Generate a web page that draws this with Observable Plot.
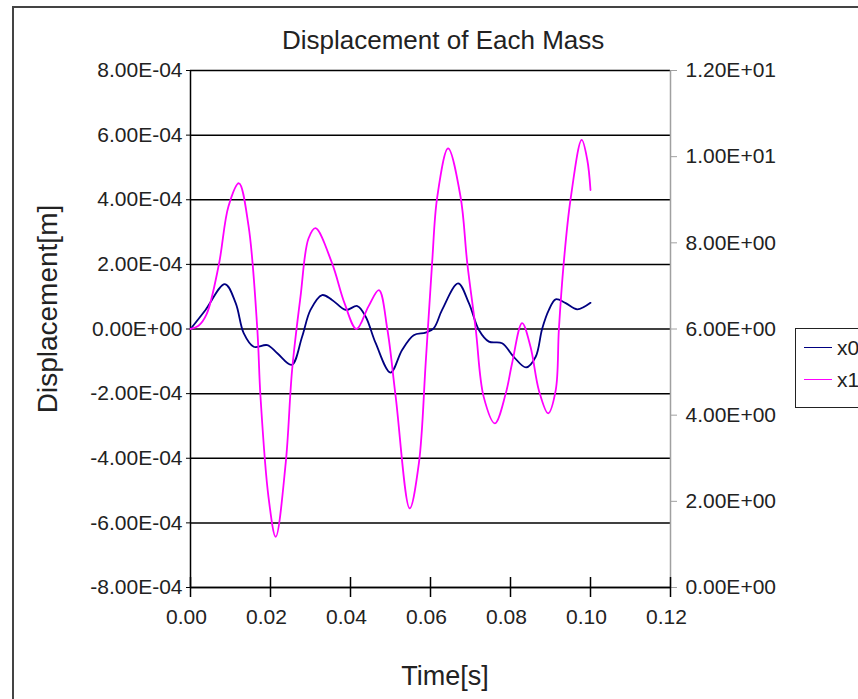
<!DOCTYPE html>
<html><head><meta charset="utf-8">
<script src="https://cdn.jsdelivr.net/npm/d3@7"></script>
<script src="https://cdn.jsdelivr.net/npm/@observablehq/plot@0.6"></script>
<style>
html,body{margin:0;padding:0;background:#fff;overflow:hidden;width:858px;height:699px}
#wrap{position:relative;width:858px;height:699px;overflow:hidden;font-family:"Liberation Sans",Arial,sans-serif;color:#222}
#frame{position:absolute;left:12px;top:6px;width:900px;height:800px;border:2px solid #444;box-sizing:border-box}
#chart{position:absolute;left:0;top:0}
#title{position:absolute;left:282px;top:27px;font-size:26px;white-space:nowrap;line-height:1}
#ytitle{position:absolute;left:48px;top:309px;font-size:28px;line-height:1;white-space:nowrap;transform:translate(-50%,-50%) rotate(-90deg)}
#xtitle{position:absolute;left:445px;top:676px;font-size:27px;line-height:1;white-space:nowrap;transform:translate(-50%,-50%)}
#legend{position:absolute;left:795px;top:328px;width:120px;height:80px;border:1.5px solid #222;box-sizing:border-box;font-size:21px;line-height:1}
.item{position:absolute;left:8px;display:flex;align-items:center;height:22px}
.sw{display:inline-block;width:28px;height:0;border-top:1.5px solid;margin-right:5px}
</style></head>
<body><div id="wrap">
<div id="frame"></div>
<div id="chart"></div>
<div id="title">Displacement of Each Mass</div>
<div id="ytitle">Displacement[m]</div>
<div id="xtitle">Time[s]</div>
<div id="legend">
  <div class="item" style="top:7px"><span class="sw" style="border-color:#000080"></span>x0</div>
  <div class="item" style="top:39px"><span class="sw" style="border-color:#ff00ff"></span>x1</div>
</div>
</div>
<script>
// Series names and colours
const seriesNames = ["x0", "x1"];
const seriesColors = ["#000080", "#ff00ff"];

// Tick labels
const xTicks = [0, 0.02, 0.04, 0.06, 0.08, 0.10, 0.12];
const leftTicks = [-8e-4, -6e-4, -4e-4, -2e-4, 0, 2e-4, 4e-4, 6e-4, 8e-4];
const rightTicks = [0, 2, 4, 6, 8, 10, 12];

// x0 : time [s] and displacement [m]
const t0 = [0, 0.00375, 0.0086, 0.0113, 0.0133, 0.0158, 0.0192, 0.0217, 0.0253, 0.0279, 0.0300, 0.0329, 0.0354, 0.0388, 0.0417, 0.0438, 0.0463, 0.0500, 0.0529, 0.0558, 0.0588, 0.0608, 0.0629, 0.0669, 0.0696, 0.0721, 0.0746, 0.0779, 0.0808, 0.0839, 0.0863, 0.0879, 0.0896, 0.0913, 0.0938, 0.0967, 0.1000];
const x0 = [0, 0.59e-4, 1.39e-4, 0.80e-4, -0.13e-4, -0.55e-4, -0.50e-4, -0.75e-4, -1.11e-4, -0.24e-4, 0.59e-4, 1.05e-4, 0.90e-4, 0.59e-4, 0.71e-4, 0.38e-4, -0.44e-4, -1.35e-4, -0.65e-4, -0.19e-4, -0.11e-4, 0.02e-4, 0.59e-4, 1.41e-4, 0.80e-4, -0.03e-4, -0.39e-4, -0.44e-4, -0.86e-4, -1.19e-4, -0.86e-4, 0, 0.59e-4, 0.92e-4, 0.80e-4, 0.61e-4, 0.81e-4];

// x1 : time [s] and displacement [m]
const t1 = [0, 0.0020, 0.0040, 0.0071, 0.0095, 0.0121, 0.0145, 0.0167, 0.0175, 0.0195, 0.0213, 0.0238, 0.0254, 0.0275, 0.0295, 0.03125, 0.0354, 0.0385, 0.0415, 0.0445, 0.0471, 0.0492, 0.0513, 0.0548, 0.0571, 0.0588, 0.0604, 0.0617, 0.0644, 0.0675, 0.0692, 0.0713, 0.0733, 0.0761, 0.0788, 0.0804, 0.0829, 0.0850, 0.0871, 0.0894, 0.0913, 0.0921, 0.0933, 0.0950, 0.0978, 0.0992, 0.1000];
const x1 = [0, 0.10e-4, 0.45e-4, 2.00e-4, 3.80e-4, 4.51e-4, 3.20e-4, 0, -2.10e-4, -5.20e-4, -6.43e-4, -4.15e-4, -1.27e-4, 1.00e-4, 2.80e-4, 3.12e-4, 2.03e-4, 0.80e-4, 0, 0.70e-4, 1.20e-4, 0, -2.10e-4, -5.55e-4, -4.15e-4, -1.05e-4, 2.04e-4, 4.10e-4, 5.59e-4, 4.10e-4, 2.03e-4, 0, -2.10e-4, -2.92e-4, -2.00e-4, -1.06e-4, 0.18e-4, -0.55e-4, -1.90e-4, -2.61e-4, -1.90e-4, 0, 2.03e-4, 4.00e-4, 5.85e-4, 5.23e-4, 4.30e-4];

const data0 = t0.map((t, i) => ({t, v: x0[i], s: seriesNames[0]}));
const data1 = t1.map((t, i) => ({t, v: x1[i], s: seriesNames[1]}));

function fmtE(v) {
  v = Math.round(v * 1e9) / 1e9;
  const [m, e] = v.toExponential(2).split("e");
  const n = +e;
  return m + "E" + (n < 0 ? "-" : "+") + String(Math.abs(n)).padStart(2, "0");
}
// secondary (right) axis mapping: 0..12 spans the left domain -8e-4..8e-4
const yMin = leftTicks[0], yMax = leftTicks[leftTicks.length - 1];
const rMin = rightTicks[0], rMax = rightTicks[rightTicks.length - 1];
const toLeft = r => yMin + (r - rMin) / (rMax - rMin) * (yMax - yMin);
const toRight = v => rMin + (v - yMin) / (yMax - yMin) * (rMax - rMin);

const chart = Plot.plot({
  width: 858, height: 699,
  marginLeft: 190, marginRight: 188, marginTop: 70, marginBottom: 112,
  x: {domain: [xTicks[0], xTicks[xTicks.length - 1]]},
  y: {domain: [yMin, yMax]},
  style: {fontFamily: "'Liberation Sans', Arial, sans-serif", fontSize: "21px", color: "#222", background: "transparent", overflow: "visible"},
  marks: [
    Plot.gridY(leftTicks, {stroke: "#000", strokeOpacity: 1, strokeWidth: 1.5}),
    Plot.ruleX([xTicks[xTicks.length - 1]], {stroke: "#a0a0a0", strokeWidth: 1.5}),
    Plot.ruleX([xTicks[0]], {stroke: "#000", strokeWidth: 1.5}),
    Plot.axisY({ticks: leftTicks, tickFormat: fmtE, tickSize: 4, tickPadding: 4, label: null, stroke: "#000"}),
    Plot.axisY({anchor: "right", ticks: rightTicks.map(toLeft), tickFormat: d => fmtE(toRight(d)), tickSize: 6, tickPadding: 9, label: null, stroke: "#a0a0a0"}),
    Plot.axisX({ticks: xTicks, tickFormat: () => "", tickSize: 20, dy: -10, label: null, stroke: "#000", strokeWidth: 1.5}),
    Plot.axisX({ticks: xTicks, tickFormat: d => d.toFixed(2), tickSize: 0, tickPadding: 22, dx: -4, label: null}),
    Plot.line(data0, {x: "t", y: "v", stroke: seriesColors[0], strokeWidth: 1.8, curve: "catmull-rom"}),
    Plot.line(data1, {x: "t", y: "v", stroke: seriesColors[1], strokeWidth: 1.8, curve: "catmull-rom"}),
    Plot.ruleY([yMin], {stroke: "#000", strokeWidth: 1.5})
  ]
});
document.getElementById("chart").appendChild(chart);
</script>
</body></html>
